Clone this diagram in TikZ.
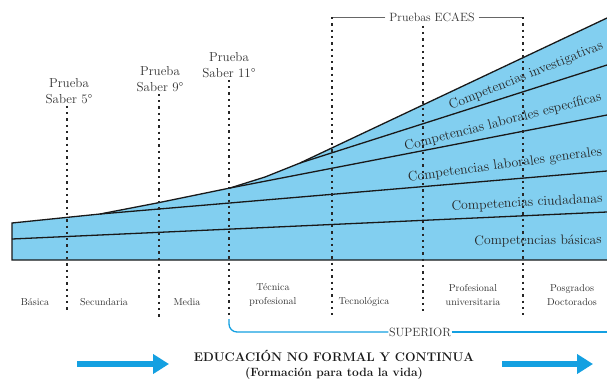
\documentclass[tikz,border=0pt]{standalone}
\usepackage{tikz}
\usetikzlibrary{arrows.meta}
\definecolor{bandblue}{RGB}{130,207,240}
\definecolor{arrowblue}{RGB}{20,160,225}
\definecolor{txtgray}{RGB}{50,50,50}

\begin{document}
\begin{tikzpicture}[x=1pt, y=-1pt,
    dotline/.style={line width=2.3pt, dash pattern=on 2.3pt off 4pt, black!85},
    edge/.style={line width=1.3pt, black!90},
    saber/.style={align=center, text=txtgray, inner sep=2pt, font=\fontsize{13}{16}\selectfont},
    level/.style={align=center, text=txtgray, font=\fontsize{10}{14}\selectfont},
    comp/.style={text=black!85, inner sep=0pt, font=\fontsize{13.7}{16}\selectfont},
    supline/.style={arrowblue, line width=1.3pt},
    bigarrow/.style={arrowblue, line width=6pt, -{Triangle[length=16pt,width=19pt]}}]
  \useasboundingbox (0,0) rectangle (607,383);
  % band of competencies
  \coordinate (P0) at (12,223);
  \coordinate (P1) at (100,214);
  \coordinate (P2) at (157,203);
  \coordinate (P3) at (230,188);
  \coordinate (P4) at (265,177);
  \coordinate (P5) at (300,163);
  \coordinate (P6) at (607,18);
  \coordinate (B0) at (12,260);
  \coordinate (B1) at (607,260);
  \coordinate (LA0) at (12,239);
  \coordinate (LA1) at (607,212);
  \coordinate (LB1) at (607,171);
  \coordinate (LC1) at (607,115);
  \coordinate (LD1) at (607,65);
  \fill[bandblue] (P0) -- (P1) -- (P2) -- (P3) -- (P4) -- (P5) -- (P6) -- (B1) -- (B0) -- cycle;
  \draw[edge] (P6) -- (P5) -- (P4) -- (P3) -- (P2) -- (P1) -- (P0) -- (B0) -- (B1);
  \draw[edge] (LA0) -- (LA1);
  \draw[edge] (P1) -- (LB1);
  \draw[edge] (P3) -- (LC1);
  \draw[edge] (P5) -- (LD1);
  \node[comp, rotate=21.7] (CI) at (526,76) {Competencias investigativas};
  \node[comp, rotate=14.3] (CE) at (503,122) {Competencias laborales específicas};
  \node[comp, rotate=7.7] (CG) at (505,165) {Competencias laborales generales};
  \node[comp, rotate=3] (CC) at (527,203) {Competencias ciudadanas};
  \node[comp, rotate=0.5] (CB) at (538,241) {Competencias básicas};
  % tests
  \node[saber] (S5) at (69,91) {Prueba\\Saber 5\textdegree};
  \node[saber] (S9) at (160,79) {Prueba\\Saber 9\textdegree};
  \node[saber] (S11) at (229,65) {Prueba\\Saber 11\textdegree};
  \coordinate (S5B) at (67,313);
  \coordinate (S9B) at (159,317);
  \coordinate (S11B) at (229,316);
  \draw[dotline] (S5.south -| S5B) -- (S5B);
  \draw[dotline] (S9.south -| S9B) -- (S9B);
  \draw[dotline] (S11.south -| S11B) -- (S11B);
  \node[text=txtgray, inner sep=4pt, font=\fontsize{12}{14}\selectfont] (ECAES) at (432,17) {Pruebas ECAES};
  \coordinate (E1T) at (332,17);
  \coordinate (E1B) at (332,315);
  \coordinate (E2B) at (423,315);
  \coordinate (E3T) at (523,17);
  \coordinate (E3B) at (523,315);
  \draw[black!60, line width=0.8pt] (ECAES.west) -- (E1T);
  \draw[black!60, line width=0.8pt] (ECAES.east) -- (E3T);
  \draw[dotline] (E1T) -- (E1B);
  \draw[dotline] (ECAES.south -| E2B) -- (E2B);
  \draw[dotline] (E3T) -- (E3B);
  % levels
  \node[level] (BAS) at (35,302) {Básica};
  \node[level] (SEC) at (104,302) {Secundaria};
  \node[level] (MED) at (187,302) {Media};
  \node[level] (TEC) at (273,295) {Técnica\\profesional};
  \node[level] (TGL) at (364,302) {Tecnológica};
  \node[level] (PRO) at (473,295) {Profesional\\universitaria};
  \node[level] (POS) at (572,295) {Posgrados\\Doctorados};
  \node[text=txtgray, inner sep=0.5pt, font=\fontsize{12}{14}\selectfont] (SUP) at (420,332) {SUPERIOR};
  \coordinate (SUPL) at (229,319);
  \coordinate (SUPR) at (607,332);
  \draw[supline, rounded corners=8pt] (SUPL) |- (SUP.west);
  \draw[supline] (SUP.east) -- (SUPR);
  % lifelong education
  \node[text=black!90, font=\bfseries\fontsize{12.5}{15}\selectfont] (EDU) at (334,356) {EDUCACIÓN NO FORMAL Y CONTINUA};
  \node[text=black!90, font=\bfseries\fontsize{12}{14}\selectfont] (FORM) at (334,373) {(Formación para toda la vida)};
  \coordinate (AL0) at (77,364);
  \coordinate (AL1) at (169,364);
  \coordinate (AR0) at (502,364);
  \coordinate (AR1) at (593,364);
  \draw[bigarrow] (AL0) -- (AL1);
  \draw[bigarrow] (AR0) -- (AR1);
\end{tikzpicture}
\end{document}
